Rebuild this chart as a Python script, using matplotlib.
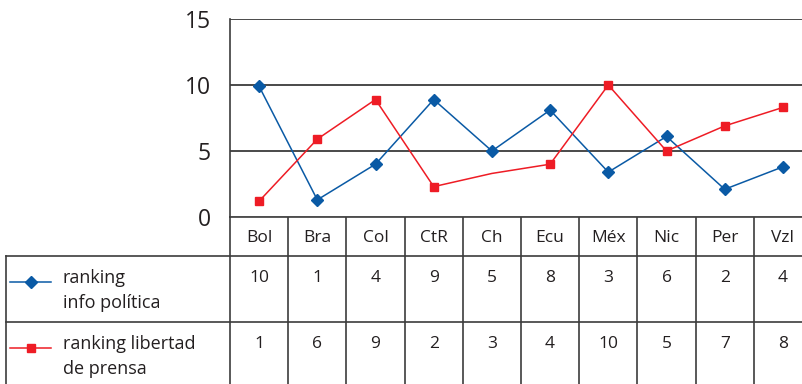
import matplotlib
matplotlib.use("Agg")
import matplotlib.pyplot as plt

countries = ["Bol", "Bra", "Col", "CtR", "Ch", "Ecu", "Méx", "Nic", "Per", "Vzl"]
info_politica = [9.9, 1.3, 4.0, 8.9, 5.0, 8.1, 3.4, 6.1, 2.1, 3.8]
libertad_prensa = [1.2, 5.9, 8.9, 2.3, 3.3, 4.0, 10.0, 5.0, 6.9, 8.3]
series_labels = ["ranking\ninfo política", "ranking libertad\nde prensa"]
y_ticks = [0, 5, 10, 15]

BLUE = "#0a5aa5"
RED = "#ee1c25"
INK = "#231f20"
LINE = "#3c3c3c"

plt.rcParams["font.family"] = ["Open Sans", "DejaVu Sans"]

W, H = 802, 384
fig = plt.figure(figsize=(W / 100, H / 100), dpi=100)

# layout in pixels (origin top-left)
plot_left, col_w = 230, 58.2
plot_top, plot_bottom = 19, 217
row_edges = [217, 256, 322, 392]
legend_left = 6
n = len(countries)

ax = fig.add_axes([plot_left / W, 1 - plot_bottom / H,
                   col_w * n / W, (plot_bottom - plot_top) / H])
xs = list(range(n))
ax.plot(xs, info_politica, color=BLUE, lw=1.1, marker="D", ms=6.5,
        mfc=BLUE, mec=BLUE, zorder=3)
# the Ch point of this series has no marker
ax.plot(xs, libertad_prensa, color=RED, lw=1.1, marker="s", ms=6.3,
        mfc=RED, mec=RED, markevery=[i for i in xs if i != 4], zorder=3)
ax.set_xlim(-0.5, n - 0.5)
ax.set_ylim(y_ticks[0], y_ticks[-1])
ax.set_yticks(y_ticks)
ax.set_xticks([])
ax.yaxis.grid(True, color="#4a4a4a", lw=1.4)
ax.set_axisbelow(True)
for side in ("top", "right", "bottom"):
    ax.spines[side].set_visible(False)
ax.spines["left"].set_color(LINE)
ax.spines["left"].set_linewidth(1.2)
ax.tick_params(axis="y", length=0, pad=14, labelsize=16.5, labelcolor=INK)

# data table underneath, drawn in pixel coordinates
tab = fig.add_axes([0, 0, 1, 1], zorder=-1)
tab.set_xlim(0, W)
tab.set_ylim(H, 0)
tab.axis("off")

col_edges = [plot_left + i * col_w for i in range(n + 1)]
for x in col_edges:
    tab.plot([x, x], [row_edges[0], row_edges[-1]], color=LINE, lw=1.2)
tab.plot([plot_left, W + 20], [row_edges[0]] * 2, color=LINE, lw=1.2)
for y in row_edges[1:3]:
    tab.plot([legend_left, W + 20], [y, y], color=LINE, lw=1.2)
tab.plot([legend_left] * 2, [row_edges[1], row_edges[-1]], color=LINE, lw=1.2)

for i, name in enumerate(countries):
    cx = col_edges[i] + col_w / 2
    tab.text(cx, (row_edges[0] + row_edges[1]) / 2 + 1, name, ha="center",
             va="center", fontsize=12.5, color=INK)

rows = [(info_politica, BLUE, "D", 6), (libertad_prensa, RED, "s", 6)]
for r, ((vals, color, marker, ms), label) in enumerate(zip(rows, series_labels)):
    top = row_edges[r + 1]
    for i, v in enumerate(vals):
        cx = col_edges[i] + col_w / 2
        tab.text(cx, top + 22, f"{round(v)}", ha="center", va="center",
                 fontsize=12.5, color=INK)
    ky = top + 26
    tab.plot([10, 51], [ky, ky], color=color, lw=1.1)
    tab.plot([30.5], [ky], marker=marker, ms=ms, color=color)
    for k, part in enumerate(label.split("\n")):
        tab.text(63, top + 22 + k * 25, part, ha="left", va="center",
                 fontsize=13, color=INK)

fig.savefig("out.png", dpi=100)
